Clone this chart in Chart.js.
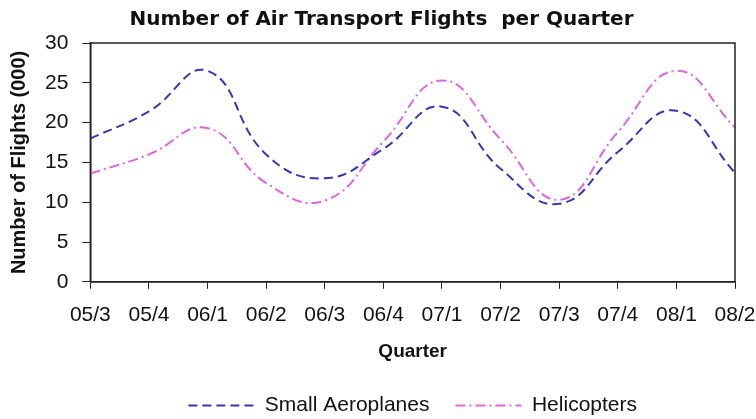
<!DOCTYPE html>
<html lang="en">
<head>
  <meta charset="UTF-8">
  <title>Number of Air Transport Flights per Quarter</title>
  <script src="https://cdn.jsdelivr.net/npm/chart.js"></script>
  <style>
    body {
      margin: 0;
      background: #ffffff;
    }
    .chart-box {
      position: relative;
      width: 756px;
      height: 419px;
    }
  </style>
</head>
<body>
  <div class="chart-box">
    <canvas id="flightsChart"></canvas>
  </div>

  <script>
    // data (thousands of flights)
    const quarters = ['05/3', '05/4', '06/1', '06/2', '06/3', '06/4', '07/1', '07/2', '07/3', '07/4', '08/1', '08/2'];
    const smallAeroplanes = [18.0, 21.4, 26.5, 16.0, 13.0, 16.7, 22.0, 14.2, 9.8, 16.3, 21.5, 13.7];
    const helicopters = [13.6, 16.0, 19.3, 12.4, 10.2, 17.6, 25.3, 17.9, 10.3, 18.8, 26.5, 19.4];
    const yTicks = [0, 5, 10, 15, 20, 25, 30];

    // box around the plot area
    const frame = {
      id: 'frame',
      afterDraw(chart) {
        const a = chart.chartArea;
        const ctx = chart.ctx;
        ctx.save();
        ctx.strokeStyle = '#222';
        ctx.lineWidth = 1.5;
        ctx.strokeRect(a.left, a.top, a.right - a.left, a.bottom - a.top);
        ctx.restore();
      }
    };

    const ctx = document.getElementById('flightsChart').getContext('2d');
    new Chart(ctx, {
      type: 'line',
      data: {
        labels: quarters,
        datasets: [
          {
            label: 'Small Aeroplanes',
            data: smallAeroplanes,
            borderColor: '#3636b6',
            borderWidth: 2,
            borderDash: [9, 5],
            pointRadius: 0,
            tension: 0.45,
            fill: false
          },
          {
            label: 'Helicopters',
            data: helicopters,
            borderColor: '#e066e0',
            borderWidth: 2,
            borderDash: [10, 4, 2, 4],
            pointRadius: 0,
            tension: 0.45,
            fill: false
          }
        ]
      },
      options: {
        responsive: true,
        maintainAspectRatio: false,
        animation: false,
        layout: { padding: { left: 7, right: 0, bottom: -7 } },
        scales: {
          x: {
            offset: false,
            grid: { drawOnChartArea: false, tickLength: 7, color: '#222' },
            border: { color: '#222', width: 1.5 },
            ticks: {
              autoSkip: false,
              maxRotation: 0,
              padding: 14,
              color: '#111',
              font: { family: 'Liberation Sans', size: 21 }
            },
            // last label only needs half its width on the right
            afterFit(axis) {
              axis.paddingRight = 21;
            },
            title: {
              display: true,
              text: 'Quarter',
              color: '#111',
              font: { family: 'Liberation Sans', size: 19, weight: 'bold', lineHeight: 1 },
              padding: { top: 0, bottom: 8 }
            }
          },
          y: {
            min: 0,
            max: 30,
            afterBuildTicks(axis) {
              axis.ticks = yTicks.map(v => ({ value: v }));
            },
            grid: { drawOnChartArea: false, tickLength: 8, color: '#222' },
            border: { color: '#222', width: 1.5 },
            ticks: {
              padding: 14,
              color: '#111',
              font: { family: 'Liberation Sans', size: 21 }
            },
            title: {
              display: true,
              text: 'Number of Flights (000)',
              color: '#111',
              font: { family: 'Liberation Sans', size: 20, weight: 'bold' },
              padding: { top: 0, bottom: 0 }
            }
          }
        },
        plugins: {
          title: {
            display: true,
            text: 'Number of Air Transport Flights  per Quarter',
            color: '#111',
            font: { family: 'DejaVu Sans', size: 20, weight: 'bold' },
            padding: { top: 8, bottom: 11 }
          },
          legend: {
            position: 'bottom',
            fullSize: false,
            labels: {
              usePointStyle: true,
              pointStyle: 'line',
              pointStyleWidth: 66,
              padding: 26,
              color: '#111',
              font: { family: 'Liberation Sans', size: 21 },
              generateLabels(chart) {
                const items = Chart.defaults.plugins.legend.labels.generateLabels(chart);
                items.forEach(item => {
                  const ds = chart.data.datasets[item.datasetIndex];
                  item.lineDash = ds.borderDash;
                  item.strokeStyle = ds.borderColor;
                  item.lineWidth = ds.borderWidth;
                });
                return items;
              }
            }
          },
          tooltip: { enabled: false }
        }
      },
      plugins: [frame]
    });
  </script>
</body>
</html>
